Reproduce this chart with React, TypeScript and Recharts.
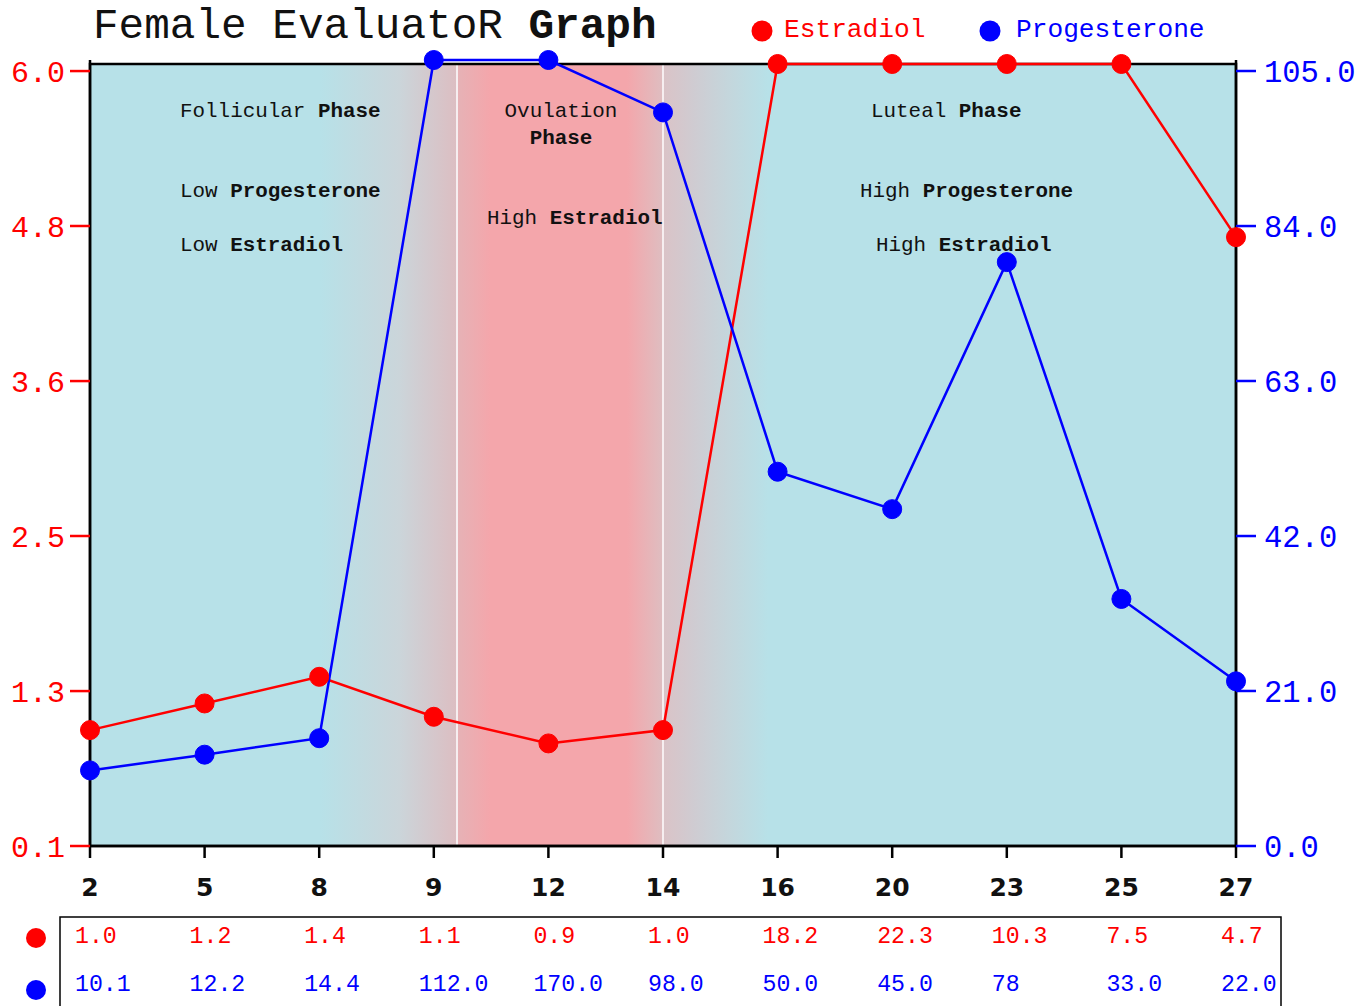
import React from 'react';
import { LineChart, Line, XAxis, YAxis, ReferenceArea } from 'recharts';

const DAYS = ['2', '5', '8', '9', '12', '14', '16', '20', '23', '25', '27'];
const ESTRADIOL = [1.0, 1.2, 1.4, 1.1, 0.9, 1.0, 18.2, 22.3, 10.3, 7.5, 4.7];
const PROGESTERONE = [10.1, 12.2, 14.4, 112.0, 170.0, 98.0, 50.0, 45.0, 78, 33.0, 22.0];
const ESTRADIOL_TEXT = ['1.0', '1.2', '1.4', '1.1', '0.9', '1.0', '18.2', '22.3', '10.3', '7.5', '4.7'];
const PROGESTERONE_TEXT = ['10.1', '12.2', '14.4', '112.0', '170.0', '98.0', '50.0', '45.0', '78', '33.0', '22.0'];

const ESTRADIOL_CAP = 6.0;
const PROGESTERONE_CAP = 105;
const LEFT_DOMAIN = [0.13, 6.03];
const RIGHT_DOMAIN = [0, 105];
const LEFT_TICKS = [0.13, 1.293, 2.457, 3.62, 4.784, 5.947];
const LEFT_TICK_LABELS = ['0.1', '1.3', '2.5', '3.6', '4.8', '6.0'];
const RIGHT_TICKS = [0, 20.71, 41.41, 62.12, 82.82, 103.53];
const RIGHT_TICK_LABELS = ['0.0', '21.0', '42.0', '63.0', '84.0', '105.0'];

const data = DAYS.map((day, i) => ({
  day,
  estradiol: Math.min(ESTRADIOL[i], ESTRADIOL_CAP),
  progesterone: Math.min(PROGESTERONE[i], PROGESTERONE_CAP),
}));

const MONO = '"Liberation Mono", "Courier New", monospace';
const RED = '#ff0000';
const BLUE = '#0000ff';
const INK = '#111111';

const annotations = [
  { x: 180, y: 111, a: 'Follicular ', b: 'Phase', anchor: 'start' },
  { x: 180, y: 191, a: 'Low ', b: 'Progesterone', anchor: 'start' },
  { x: 180, y: 245, a: 'Low ', b: 'Estradiol', anchor: 'start' },
  { x: 561, y: 111, a: 'Ovulation', b: '', anchor: 'middle' },
  { x: 561, y: 138, a: '', b: 'Phase', anchor: 'middle' },
  { x: 487, y: 218, a: 'High ', b: 'Estradiol', anchor: 'start' },
  { x: 871, y: 111, a: 'Luteal ', b: 'Phase', anchor: 'start' },
  { x: 860, y: 191, a: 'High ', b: 'Progesterone', anchor: 'start' },
  { x: 876, y: 245, a: 'High ', b: 'Estradiol', anchor: 'start' },
];

export default function App() {
  return (
    <div style={{ position: 'absolute', left: 0, top: 0, width: 1361, height: 1006, background: '#fff', overflow: 'hidden' }}>
      <LineChart width={1361} height={1006} data={data} margin={{ top: 60, right: 0, bottom: 100, left: 0 }}>
        <defs>
          <linearGradient id="phaseBg" x1="0" y1="0" x2="1" y2="0">
            <stop offset="0" stopColor="#b7e1e8" />
            <stop offset="0.2007" stopColor="#b7e1e8" />
            <stop offset="0.27" stopColor="#cbd5da" />
            <stop offset="0.3195" stopColor="#dcbec2" />
            <stop offset="0.3197" stopColor="#f6eef0" />
            <stop offset="0.3209" stopColor="#f6eef0" />
            <stop offset="0.3211" stopColor="#e6b2b6" />
            <stop offset="0.349" stopColor="#f4a6ab" />
            <stop offset="0.4686" stopColor="#f4a6ab" />
            <stop offset="0.4990" stopColor="#dfbdc0" />
            <stop offset="0.4992" stopColor="#f6eef0" />
            <stop offset="0.5006" stopColor="#f6eef0" />
            <stop offset="0.5008" stopColor="#dac3c7" />
            <stop offset="0.528" stopColor="#cfccd2" />
            <stop offset="0.560" stopColor="#c3d7dd" />
            <stop offset="0.592" stopColor="#b7e1e8" />
            <stop offset="1" stopColor="#b7e1e8" />
          </linearGradient>
        </defs>
        <XAxis
          dataKey="day"
          type="category"
          scale="point"
          padding={{ left: 0, right: 0 }}
          height={60}
          axisLine={{ stroke: '#000', strokeWidth: 2.5 }}
          tickLine={{ stroke: '#000', strokeWidth: 2.5 }}
          tickSize={12}
          tickMargin={20}
          tick={{ fill: INK, fontSize: 25, fontWeight: 'bold', fontFamily: '"DejaVu Sans", Verdana, sans-serif' }}
          interval={0}
        />
        <YAxis
          yAxisId="l"
          orientation="left"
          width={90}
          domain={LEFT_DOMAIN}
          ticks={LEFT_TICKS}
          tickFormatter={(v, i) => LEFT_TICK_LABELS[i] ?? String(v)}
          axisLine={{ stroke: '#000', strokeWidth: 2.5 }}
          tickLine={{ stroke: RED, strokeWidth: 2.5 }}
          tickSize={20}
          tickMargin={5}
          tick={{ fill: RED, fontSize: 30, fontFamily: MONO }}
          interval={0}
        />
        <YAxis
          yAxisId="r"
          orientation="right"
          width={125}
          domain={RIGHT_DOMAIN}
          ticks={RIGHT_TICKS}
          tickFormatter={(v, i) => RIGHT_TICK_LABELS[i] ?? String(v)}
          axisLine={{ stroke: '#000', strokeWidth: 2.5 }}
          tickLine={{ stroke: BLUE, strokeWidth: 2.5 }}
          tickSize={20}
          tickMargin={8}
          tick={{ fill: BLUE, fontSize: 30.5, fontFamily: MONO, textAnchor: 'start' }}
          interval={0}
        />
        <ReferenceArea
          yAxisId="l"
          x1={DAYS[0]}
          x2={DAYS[DAYS.length - 1]}
          y1={LEFT_DOMAIN[0]}
          y2={ESTRADIOL_CAP}
          fill="url(#phaseBg)"
          fillOpacity={1}
          stroke="#000"
          strokeWidth={2.5}
          ifOverflow="visible"
        />
        <Line
          yAxisId="l"
          type="linear"
          dataKey="estradiol"
          stroke={RED}
          strokeWidth={2.5}
          dot={{ r: 9.5, fill: RED, stroke: RED, strokeWidth: 1 }}
          activeDot={false}
          isAnimationActive={false}
        />
        <Line
          yAxisId="r"
          type="linear"
          dataKey="progesterone"
          stroke={BLUE}
          strokeWidth={2.5}
          dot={{ r: 9.5, fill: BLUE, stroke: BLUE, strokeWidth: 1 }}
          activeDot={false}
          isAnimationActive={false}
        />
      </LineChart>

      <svg
        width={1361}
        height={1006}
        style={{ position: 'absolute', left: 0, top: 0, pointerEvents: 'none', overflow: 'hidden' }}
      >
        <text x={93} y={38} fontFamily={MONO} fontSize={42.7} fill={INK}>
          <tspan>Female EvaluatoR </tspan>
          <tspan fontWeight="bold">Graph</tspan>
        </text>

        <circle cx={762} cy={31} r={10.5} fill={RED} />
        <text x={784} y={30} fontFamily={MONO} fontSize={26.2} fill={RED} dominantBaseline="central">
          Estradiol
        </text>
        <circle cx={990} cy={31} r={10.5} fill={BLUE} />
        <text x={1016} y={30} fontFamily={MONO} fontSize={26.2} fill={BLUE} dominantBaseline="central">
          Progesterone
        </text>

        {annotations.map((t, i) => (
          <text
            key={i}
            x={t.x}
            y={t.y}
            fontFamily={MONO}
            fontSize={20.9}
            fill={INK}
            textAnchor={t.anchor as any}
            dominantBaseline="central"
          >
            {t.a ? <tspan>{t.a}</tspan> : null}
            {t.b ? <tspan fontWeight="bold">{t.b}</tspan> : null}
          </text>
        ))}

        <rect x={60} y={917} width={1221} height={120} fill="none" stroke="#000" strokeWidth={1.5} />
        <circle cx={36} cy={938} r={10} fill={RED} />
        <circle cx={36} cy={990} r={10} fill={BLUE} />
        {ESTRADIOL_TEXT.map((s, i) => (
          <text key={'e' + i} x={75 + i * 114.6} y={937} fontFamily={MONO} fontSize={23.2} fill={RED} dominantBaseline="central">
            {s}
          </text>
        ))}
        {PROGESTERONE_TEXT.map((s, i) => (
          <text key={'p' + i} x={75 + i * 114.6} y={985} fontFamily={MONO} fontSize={23.2} fill={BLUE} dominantBaseline="central">
            {s}
          </text>
        ))}
      </svg>
    </div>
  );
}
